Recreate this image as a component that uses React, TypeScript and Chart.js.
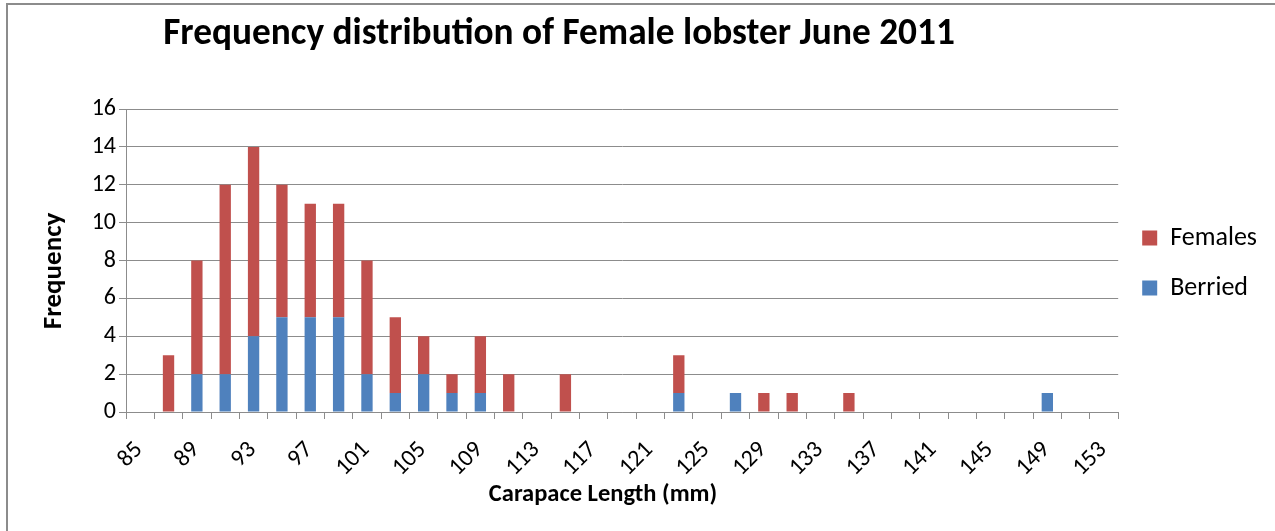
import React, { useEffect, useRef } from 'react';
import { Chart, registerables } from 'chart.js';

Chart.register(...registerables);

const categories = [
  '85', '87', '89', '91', '93', '95', '97', '99', '101', '103', '105', '107',
  '109', '111', '113', '115', '117', '119', '121', '123', '125', '127', '129',
  '131', '133', '135', '137', '139', '141', '143', '145', '147', '149', '151', '153',
];

const berriedValues = [
  0, 0, 2, 2, 4, 5, 5, 5, 2, 1, 2, 1,
  1, 0, 0, 0, 0, 0, 0, 1, 0, 1, 0,
  0, 0, 0, 0, 0, 0, 0, 0, 0, 1, 0, 0,
];

const femalesValues = [
  0, 3, 6, 10, 10, 7, 6, 6, 6, 4, 2, 1,
  3, 2, 0, 2, 0, 0, 0, 2, 0, 0, 1,
  1, 0, 1, 0, 0, 0, 0, 0, 0, 0, 0, 0,
];

const yTickValues = [0, 2, 4, 6, 8, 10, 12, 14, 16];

const TITLE = 'Frequency distribution of Female lobster June 2011';
const X_TITLE = 'Carapace Length (mm)';
const Y_TITLE = 'Frequency';
const FONT = "Carlito, Calibri, Lato, 'Open Sans', sans-serif";
const GRID = '#8c8c8c';

export default function App() {
  const ref = useRef<HTMLCanvasElement>(null);

  useEffect(() => {
    if (!ref.current) return;
    const titlePlugin = {
      id: 'chartTexts',
      afterDraw(chart: any) {
        const ctx = chart.ctx;
        ctx.save();
        let size = 31;
        ctx.font = `bold ${size}px ${FONT}`;
        const w = ctx.measureText(TITLE).width;
        size = size * 792 / w;
        ctx.font = `bold ${size}px ${FONT}`;
        ctx.fillStyle = '#000';
        ctx.textAlign = 'center';
        ctx.textBaseline = 'alphabetic';
        ctx.fillText(TITLE, 559, 44);

        ctx.textBaseline = 'middle';
        ctx.font = `bold 24.5px ${FONT}`;
        ctx.fillText(X_TITLE, 603, 495);

        ctx.translate(54, 271);
        ctx.rotate(-Math.PI / 2);
        ctx.font = `bold 27px ${FONT}`;
        ctx.fillText(Y_TITLE, 0, 0);
        ctx.restore();
      },
    };

    const chart = new Chart(ref.current, {
      type: 'bar',
      data: {
        labels: categories,
        datasets: [
          { label: 'Berried', data: berriedValues, backgroundColor: '#4F81BD', barPercentage: 0.4, categoryPercentage: 1 },
          { label: 'Females', data: femalesValues, backgroundColor: '#C0504D', barPercentage: 0.4, categoryPercentage: 1 },
        ],
      },
      options: {
        responsive: false,
        animation: false,
        layout: { padding: { top: 109, left: 30, right: 8, bottom: 24 } },
        plugins: {
          title: { display: false },
          tooltip: { enabled: false },
          legend: {
            position: 'right',
            reverse: true,
            align: 'start',
            title: {
              display: true,
              text: ' ',
              padding: { top: 80, bottom: 0 },
              font: { size: 10, family: FONT },
            },
            labels: {
              boxWidth: 15,
              boxHeight: 15,
              padding: 24,
              color: '#000',
              font: { size: 26, family: FONT },
            },
          },
        },
        scales: {
          x: {
            stacked: true,
            grid: { drawOnChartArea: false, drawTicks: true, tickLength: 7, color: GRID, offset: true },
            border: { color: GRID },
            ticks: {
              autoSkip: false,
              minRotation: 45,
              maxRotation: 45,
              color: '#000',
              padding: 17,
              labelOffset: -1,
              font: { size: 24, family: FONT },
              callback: (_v: any, i: number) => (i % 2 === 0 ? categories[i] : ''),
            },
            title: { display: false },
            afterFit: (scale: any) => {
              scale.height = 95;
            },
          },
          y: {
            stacked: true,
            min: 0,
            max: 16,
            afterBuildTicks: (scale: any) => {
              scale.ticks = yTickValues.map((v) => ({ value: v }));
            },
            grid: { color: GRID, drawTicks: true, tickLength: 7 },
            border: { color: GRID },
            ticks: {
              color: '#000',
              padding: 3,
              font: { size: 24, family: FONT },
            },
            title: { display: false },
            afterFit: (scale: any) => {
              scale.width = 96;
            },
          },
        },
      },
      plugins: [titlePlugin],
    } as any);
    return () => chart.destroy();
  }, []);

  return (
    <div style={{ position: 'absolute', left: 0, top: 0, width: 1275, height: 531, background: '#fff', overflow: 'hidden' }}>
      <canvas ref={ref} width={1275} height={531} style={{ position: 'absolute', left: 0, top: 0 }} />
      <div
        style={{
          position: 'absolute',
          left: 6,
          top: 3,
          width: 1300,
          height: 560,
          borderTop: `2px solid ${GRID}`,
          borderLeft: `2px solid ${GRID}`,
        }}
      />
    </div>
  );
}
